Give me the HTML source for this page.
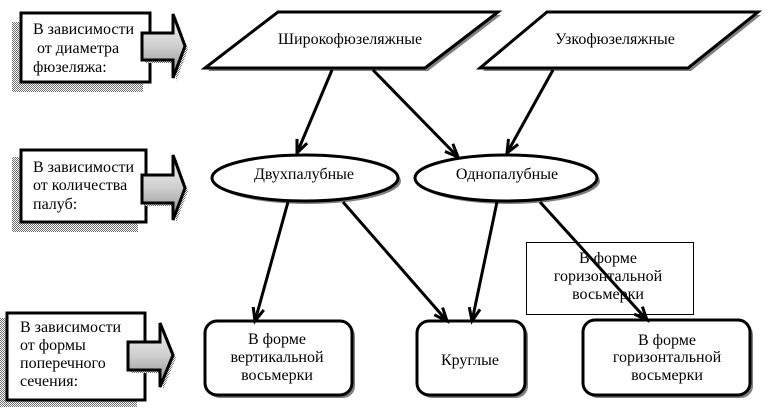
<!DOCTYPE html>
<html>
<head>
<meta charset="utf-8">
<style>
  html,body{margin:0;padding:0;background:#fff;}
  svg{display:block;font-family:"Liberation Serif","Times New Roman","DejaVu Serif",serif;}
  svg text{font-family:"Liberation Serif","Times New Roman","DejaVu Serif",serif;font-size:16px;fill:#000;}
</style>
</head>
<body>
<svg width="774" height="411" viewBox="0 0 774 411" xmlns="http://www.w3.org/2000/svg" font-family="Liberation Serif, Times New Roman, DejaVu Serif, serif" font-size="16">
  <defs>
    <pattern id="dith" patternUnits="userSpaceOnUse" width="2" height="2">
      <rect x="0" y="0" width="2" height="2" fill="#fff"/>
      <rect x="0" y="0" width="1" height="1" fill="#6e6e6e"/>
      <rect x="1" y="1" width="1" height="1" fill="#6e6e6e"/>
    </pattern>
    <linearGradient id="grad" x1="0" y1="0" x2="0" y2="1">
      <stop offset="0" stop-color="#f6f6f6"/>
      <stop offset="0.5" stop-color="#cfcfcf"/>
      <stop offset="1" stop-color="#8a8a8a"/>
    </linearGradient>
    <marker id="ah" markerUnits="userSpaceOnUse" markerWidth="20" markerHeight="20" refX="16" refY="8" orient="auto">
      <path d="M3,2.5 L16,8 L3,13.5" fill="none" stroke="#000" stroke-width="3"/>
    </marker>
  </defs>

  <rect x="0" y="0" width="774" height="411" fill="#fff"/>

  <g font-family="Liberation Serif, Times New Roman, DejaVu Serif, serif" font-size="16">
  <!-- Left boxes with dithered shadows -->
  <rect x="12" y="22" width="131" height="70" fill="url(#dith)"/>
  <rect x="21" y="13" width="129" height="69" fill="#fff" stroke="#000" stroke-width="3"/>
  <text x="33" y="34">В зависимости</text>
  <text x="33" y="53">&#160;от диаметра</text>
  <text x="33" y="72">фюзеляжа:</text>

  <rect x="12" y="157" width="126" height="75" fill="url(#dith)"/>
  <rect x="21" y="150" width="125" height="72" fill="#fff" stroke="#000" stroke-width="3"/>
  <text x="33" y="172">В зависимости</text>
  <text x="33" y="190">от количества</text>
  <text x="33" y="209">палуб:</text>

  <rect x="0" y="318" width="137" height="89" fill="url(#dith)"/>
  <rect x="7" y="313" width="138" height="87" fill="#fff" stroke="#000" stroke-width="3"/>
  <text x="20" y="332">В зависимости</text>
  <text x="20" y="350">от формы</text>
  <text x="20" y="368">поперечного</text>
  <text x="20" y="386">сечения:</text>

  <!-- Block arrows -->
  <polygon points="145,36 176,36 176,17 188,49 176,81 176,63 145,63" fill="url(#dith)"/>
  <polygon points="142,33 173,33 173,14 185,46 173,78 173,60 142,60" fill="url(#grad)" stroke="#000" stroke-width="3" stroke-linejoin="miter"/>

  <polygon points="145,178 176,178 176,158 188,191 176,223 176,206 145,206" fill="url(#dith)"/>
  <polygon points="142,175 173,175 173,155 185,188 173,220 173,203 142,203" fill="url(#grad)" stroke="#000" stroke-width="3" stroke-linejoin="miter"/>

  <polygon points="131,345 163,345 163,326 176,358 163,390 163,373 131,373" fill="url(#dith)"/>
  <polygon points="128,342 160,342 160,323 173,355 160,387 160,370 128,370" fill="url(#grad)" stroke="#000" stroke-width="3" stroke-linejoin="miter"/>

  <!-- Parallelograms -->
  <polygon points="281,15 501,15 428,71 208,71" fill="#808080"/>
  <polygon points="278,12 498,12 425,68 205,68" fill="#fff" stroke="#000" stroke-width="3"/>
  <text x="350" y="44" text-anchor="middle">Широкофюзеляжные</text>

  <polygon points="550,15 761,15 691,71 483,71" fill="#808080"/>
  <polygon points="547,12 758,12 688,68 480,68" fill="#fff" stroke="#000" stroke-width="3"/>
  <text x="615" y="44" text-anchor="middle">Узкофюзеляжные</text>

  <!-- Ellipses -->
  <ellipse cx="308" cy="181" rx="93" ry="23" fill="#808080"/>
  <ellipse cx="305" cy="178" rx="93" ry="23" fill="#fff" stroke="#000" stroke-width="3"/>
  <text x="304" y="179" text-anchor="middle">Двухпалубные</text>

  <ellipse cx="509" cy="181" rx="91" ry="23" fill="#808080"/>
  <ellipse cx="506" cy="178" rx="91" ry="23" fill="#fff" stroke="#000" stroke-width="3"/>
  <text x="507" y="179" text-anchor="middle">Однопалубные</text>

  <!-- Rounded boxes -->
  <rect x="208" y="324" width="147" height="74" rx="12" fill="#808080"/>
  <rect x="205" y="321" width="147" height="74" rx="12" fill="#fff" stroke="#000" stroke-width="3"/>
  <text x="277" y="344" text-anchor="middle">В форме</text>
  <text x="277" y="362" text-anchor="middle">вертикальной</text>
  <text x="277" y="380" text-anchor="middle">восьмерки</text>

  <rect x="420" y="324" width="108" height="74" rx="12" fill="#808080"/>
  <rect x="417" y="321" width="108" height="74" rx="12" fill="#fff" stroke="#000" stroke-width="3"/>
  <text x="470" y="365" text-anchor="middle">Круглые</text>

  <rect x="586" y="323" width="167" height="75" rx="12" fill="#808080"/>
  <rect x="583" y="320" width="167" height="75" rx="12" fill="#fff" stroke="#000" stroke-width="3"/>
  <text x="667" y="345" text-anchor="middle">В форме</text>
  <text x="667" y="362" text-anchor="middle">горизонтальной</text>
  <text x="667" y="380" text-anchor="middle">восьмерки</text>

  <!-- Thin label box -->
  <rect x="526.5" y="242.5" width="167" height="72" fill="#fff" stroke="#000" stroke-width="1"/>
  <text x="608" y="263" text-anchor="middle">В форме</text>
  <text x="608" y="281" text-anchor="middle">горизонтальной</text>
  <text x="608" y="299" text-anchor="middle">восьмерки</text>
  </g>

  <!-- Connectors -->
  <g stroke="#000" stroke-width="3" fill="none" marker-end="url(#ah)">
    <line x1="332" y1="70" x2="297" y2="153"/>
    <line x1="373" y1="70" x2="458" y2="157"/>
    <line x1="553" y1="70" x2="507" y2="153"/>
    <line x1="288" y1="202" x2="255" y2="321"/>
    <line x1="343" y1="202" x2="447" y2="321"/>
    <line x1="497" y1="202" x2="472" y2="321"/>
    <line x1="540" y1="202" x2="647" y2="320"/>
  </g>
</svg>
</body>
</html>
